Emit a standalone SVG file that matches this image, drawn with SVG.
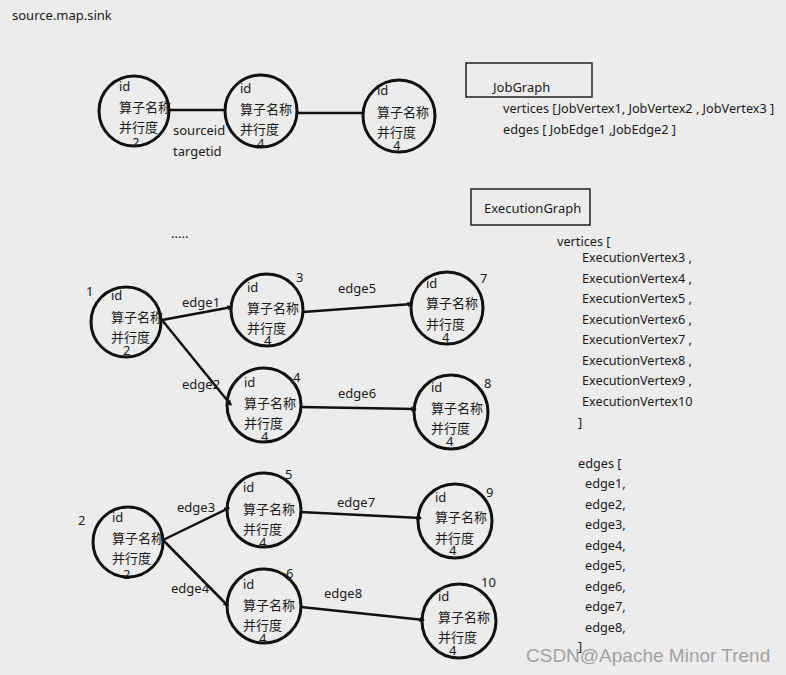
<svg xmlns="http://www.w3.org/2000/svg" width="786" height="675" viewBox="0 0 786 675">
<defs>
<marker id="ah" viewBox="0 0 6 6" refX="5" refY="3" markerWidth="2.2" markerHeight="2.2" orient="auto" markerUnits="strokeWidth">
<path d="M0,0 L6,3 L0,6 z" fill="#111"/>
</marker>
</defs>
<style>
text{font-family:"Noto Sans","Noto Sans CJK SC",sans-serif;font-size:13px;fill:#1a1a1a;dominant-baseline:central}
.s{font-size:12.7px}
.c{fill:none;stroke:#111;stroke-width:3}
.e{stroke:#111;stroke-width:2.5;fill:none}
.ea{stroke:#111;stroke-width:2.5;fill:none;marker-end:url(#ah)}
.box{fill:none;stroke:#222;stroke-width:1.5}
.wm{font-family:"Liberation Sans",Arial,sans-serif;font-size:19px;fill:#a2a2a2}
</style>
<rect width="786" height="675" fill="#ececec"/>
<text x="12" y="15">source.map.sink</text>
<text x="171" y="233">.....</text>

<g id="connectors">
<line class="e" x1="169" y1="110" x2="225" y2="110"/>
<line class="e" x1="297" y1="113" x2="363" y2="113"/>
<line class="ea" x1="162" y1="320" x2="232" y2="307"/>
<line class="ea" x1="162" y1="320" x2="231" y2="405"/>
<line class="ea" x1="303" y1="312" x2="412" y2="304"/>
<line class="ea" x1="300" y1="407" x2="416" y2="409"/>
<line class="ea" x1="163" y1="540" x2="229" y2="508"/>
<line class="ea" x1="163" y1="540" x2="228" y2="606"/>
<line class="ea" x1="300" y1="512" x2="421" y2="518"/>
<line class="ea" x1="301" y1="607" x2="424" y2="620"/>
<text x="173" y="130">sourceid</text>
<text x="173" y="151">targetid</text>
<text x="182" y="302">edge1</text>
<text x="182" y="384">edge2</text>
<text x="338" y="288">edge5</text>
<text x="338" y="393">edge6</text>
<text x="177" y="507">edge3</text>
<text x="171" y="588">edge4</text>
<text x="337" y="502">edge7</text>
<text x="324" y="593">edge8</text>
</g>

<g id="job1">
<circle class="c" cx="134" cy="111" r="35"/>
<text x="119" y="86">id</text><text x="119" y="107">算子名称</text><text x="119" y="127">并行度</text><text x="132" y="142">2</text>
</g>
<g id="job2">
<circle class="c" cx="261" cy="111" r="36"/>
<text x="240" y="88">id</text><text x="240" y="109">算子名称</text><text x="240" y="129">并行度</text><text x="257" y="143">4</text>
</g>
<g id="job3">
<circle class="c" cx="399" cy="116" r="36"/>
<text x="377" y="90">id</text><text x="377" y="112">算子名称</text><text x="377" y="132">并行度</text><text x="393" y="145">4</text>
</g>

<g id="ev1">
<circle class="c" cx="126" cy="322" r="35"/>
<text x="86" y="291">1</text>
<text x="111" y="295">id</text><text x="111" y="317">算子名称</text><text x="111" y="337">并行度</text><text x="123" y="350">2</text>
</g>
<g id="ev3">
<circle class="c" cx="267" cy="310" r="36"/>
<text x="296" y="277">3</text>
<text x="247" y="287">id</text><text x="247" y="308">算子名称</text><text x="247" y="328">并行度</text><text x="264" y="340">4</text>
</g>
<g id="ev7">
<circle class="c" cx="447" cy="308" r="36"/>
<text x="480" y="278">7</text>
<text x="426" y="283">id</text><text x="426" y="303">算子名称</text><text x="426" y="324">并行度</text><text x="442" y="337">4</text>
</g>
<g id="ev4">
<circle class="c" cx="264" cy="405" r="37"/>
<text x="293" y="377">4</text>
<text x="244" y="382">id</text><text x="244" y="403">算子名称</text><text x="244" y="423">并行度</text><text x="261" y="436">4</text>
</g>
<g id="ev8">
<circle class="c" cx="451" cy="412" r="37"/>
<text x="484" y="383">8</text>
<text x="431" y="387">id</text><text x="431" y="408">算子名称</text><text x="431" y="428">并行度</text><text x="446" y="441">4</text>
</g>
<g id="ev2">
<circle class="c" cx="128" cy="542" r="35"/>
<text x="78" y="520">2</text>
<text x="112" y="517">id</text><text x="112" y="538">算子名称</text><text x="112" y="558">并行度</text><text x="123" y="574">2</text>
</g>
<g id="ev5">
<circle class="c" cx="264" cy="510" r="37"/>
<text x="285" y="474">5</text>
<text x="243" y="487">id</text><text x="243" y="509">算子名称</text><text x="243" y="529">并行度</text><text x="259" y="542">4</text>
</g>
<g id="ev9">
<circle class="c" cx="455" cy="521" r="37"/>
<text x="486" y="492">9</text>
<text x="435" y="497">id</text><text x="435" y="517">算子名称</text><text x="435" y="538">并行度</text><text x="449" y="550">4</text>
</g>
<g id="ev6">
<circle class="c" cx="264" cy="606" r="37"/>
<text x="286" y="573">6</text>
<text x="243" y="584">id</text><text x="243" y="605">算子名称</text><text x="243" y="625">并行度</text><text x="259" y="638">4</text>
</g>
<g id="ev10">
<circle class="c" cx="459" cy="621" r="37"/>
<text x="481" y="582">10</text>
<text x="438" y="596">id</text><text x="438" y="617">算子名称</text><text x="438" y="637">并行度</text><text x="449" y="650">4</text>
</g>

<g id="jobgraph">
<rect class="box" x="466" y="63" width="126" height="34"/>
<text x="493" y="87">JobGraph</text>
<text class="s" x="503" y="108">vertices [JobVertex1,  JobVertex2 , JobVertex3 ]</text>
<text class="s" x="503" y="129">edges [ JobEdge1 ,JobEdge2 ]</text>
</g>

<g id="executiongraph">
<rect class="box" x="471" y="189" width="119" height="36"/>
<text x="484" y="208">ExecutionGraph</text>
<text class="s" x="557" y="241">vertices [</text>
<text class="s" x="582" y="257">ExecutionVertex3 ,</text>
<text class="s" x="582" y="277.5">ExecutionVertex4 ,</text>
<text class="s" x="582" y="298">ExecutionVertex5 ,</text>
<text class="s" x="582" y="318.5">ExecutionVertex6 ,</text>
<text class="s" x="582" y="339">ExecutionVertex7 ,</text>
<text class="s" x="582" y="359.5">ExecutionVertex8 ,</text>
<text class="s" x="582" y="380">ExecutionVertex9 ,</text>
<text class="s" x="582" y="400.5">ExecutionVertex10</text>
<text class="s" x="578" y="422">]</text>
<text class="s" x="578" y="463">edges [</text>
<text class="s" x="585" y="483">edge1,</text>
<text class="s" x="585" y="503.5">edge2,</text>
<text class="s" x="585" y="524">edge3,</text>
<text class="s" x="585" y="544.5">edge4,</text>
<text class="s" x="585" y="565">edge5,</text>
<text class="s" x="585" y="585.5">edge6,</text>
<text class="s" x="585" y="606">edge7,</text>
<text class="s" x="585" y="626.5">edge8,</text>
<text class="s" x="578" y="646">]</text>
</g>
<text class="wm" x="526" y="655">CSDN@Apache Minor Trend</text>
</svg>
